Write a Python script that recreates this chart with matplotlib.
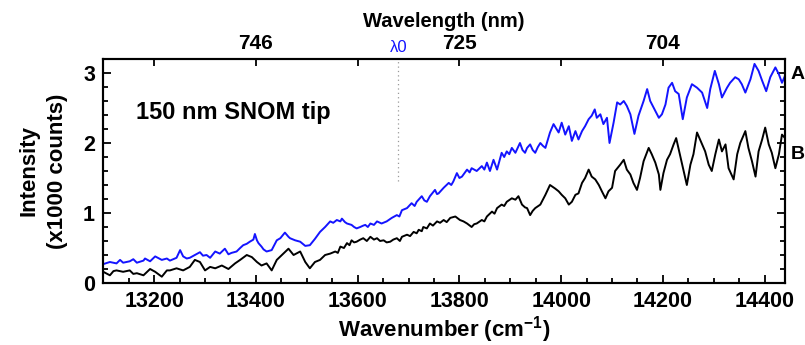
import matplotlib.pyplot as plt
from matplotlib.ticker import MultipleLocator, FixedLocator, FuncFormatter

plt.rcParams['font.family'] = ['Liberation Sans', 'DejaVu Sans']
plt.rcParams['font.weight'] = 'bold'
plt.rcParams['axes.labelweight'] = 'bold'
plt.rcParams['mathtext.fontset'] = 'custom'
plt.rcParams['mathtext.rm'] = 'Liberation Sans:bold'
plt.rcParams['mathtext.default'] = 'rm'

# spectrum A (blue), wavenumber in cm-1, intensity in 1000 counts
wn_a = [13100, 13113, 13126, 13133, 13139, 13152, 13159, 13166, 13179, 13182,
        13192, 13202, 13215, 13225, 13231, 13244, 13251, 13257, 13264, 13270,
        13280, 13290, 13296, 13303, 13310, 13320, 13329, 13339, 13346, 13352,
        13362, 13369, 13375, 13382, 13388, 13395, 13398, 13402, 13405, 13411,
        13415, 13421, 13431, 13441, 13448, 13457, 13464, 13467, 13477, 13487,
        13497, 13506, 13516, 13526, 13536, 13546, 13552, 13559, 13566, 13569,
        13575, 13579, 13588, 13593, 13598, 13605, 13611, 13615, 13620, 13625,
        13632, 13638, 13647, 13657, 13667, 13677, 13682, 13687, 13697, 13706,
        13712, 13716, 13726, 13731, 13736, 13742, 13752, 13756, 13759, 13769,
        13779, 13784, 13788, 13795, 13800, 13805, 13815, 13820, 13824, 13834,
        13844, 13849, 13854, 13860, 13867, 13874, 13883, 13888, 13893, 13898,
        13903, 13910, 13919, 13924, 13929, 13933, 13939, 13944, 13949, 13954,
        13959, 13964, 13969, 13978, 13985, 13995, 14001, 14008, 14015, 14021,
        14028, 14034, 14041, 14047, 14054, 14060, 14066, 14070, 14077, 14083,
        14090, 14095, 14103, 14110, 14116, 14123, 14129, 14136, 14144, 14152,
        14162, 14169, 14175, 14185, 14192, 14198, 14205, 14211, 14218, 14224,
        14231, 14239, 14247, 14257, 14267, 14277, 14287, 14293, 14302, 14310,
        14316, 14326, 14332, 14342, 14349, 14355, 14362, 14372, 14380, 14388,
        14395, 14403, 14411, 14421, 14428, 14434, 14440]
int_a = [0.27, 0.30, 0.28, 0.33, 0.29, 0.31, 0.34, 0.29, 0.32, 0.35,
         0.31, 0.38, 0.33, 0.35, 0.32, 0.36, 0.47, 0.38, 0.35, 0.36,
         0.40, 0.44, 0.39, 0.40, 0.36, 0.45, 0.42, 0.49, 0.41, 0.43,
         0.45, 0.50, 0.54, 0.56, 0.59, 0.62, 0.70, 0.61, 0.57, 0.52,
         0.48, 0.45, 0.47, 0.61, 0.64, 0.72, 0.66, 0.64, 0.61, 0.59,
         0.53, 0.54, 0.63, 0.73, 0.80, 0.88, 0.86, 0.90, 0.88, 0.92,
         0.87, 0.85, 0.83, 0.80, 0.78, 0.80, 0.82, 0.83, 0.80, 0.85,
         0.83, 0.88, 0.85, 0.88, 0.93, 0.97, 0.95, 1.04, 1.07, 1.14,
         1.10, 1.16, 1.24, 1.18, 1.16, 1.24, 1.33, 1.27, 1.28, 1.36,
         1.43, 1.40, 1.45, 1.57, 1.50, 1.52, 1.62, 1.58, 1.64, 1.60,
         1.67, 1.62, 1.72, 1.60, 1.76, 1.62, 1.86, 1.80, 1.88, 1.84,
         1.93, 1.86, 2.00, 1.90, 1.86, 1.93, 1.98, 1.90, 1.86, 1.94,
         2.00, 1.96, 1.93, 2.15, 2.27, 2.15, 2.29, 2.12, 2.24, 2.03,
         2.17, 2.05, 2.17, 2.24, 2.34, 2.39, 2.48, 2.36, 2.41, 2.27,
         2.36, 2.00, 2.29, 2.58, 2.55, 2.60, 2.53, 2.41, 2.13, 2.39,
         2.60, 2.77, 2.60, 2.46, 2.36, 2.41, 2.55, 2.79, 2.86, 2.74,
         2.70, 2.34, 2.65, 2.84, 2.79, 2.72, 2.50, 2.77, 3.03, 2.84,
         2.65, 2.79, 2.86, 2.94, 2.91, 2.84, 2.72, 2.91, 3.13, 3.03,
         2.89, 2.74, 2.94, 3.08, 2.98, 2.86, 2.96]

# spectrum B (black)
wn_b = [13100, 13113, 13120, 13126, 13139, 13152, 13159, 13166, 13179, 13192,
        13202, 13215, 13225, 13231, 13244, 13257, 13270, 13280, 13290, 13300,
        13310, 13320, 13333, 13346, 13359, 13369, 13382, 13392, 13402, 13411,
        13421, 13431, 13441, 13454, 13464, 13474, 13487, 13497, 13506, 13516,
        13526, 13536, 13546, 13556, 13561, 13566, 13573, 13579, 13584, 13588,
        13593, 13598, 13605, 13611, 13618, 13625, 13632, 13638, 13644, 13651,
        13657, 13664, 13670, 13677, 13683, 13687, 13697, 13703, 13710, 13716,
        13720, 13726, 13729, 13736, 13742, 13748, 13756, 13762, 13769, 13775,
        13782, 13792, 13801, 13808, 13815, 13824, 13829, 13834, 13844, 13849,
        13854, 13864, 13869, 13874, 13883, 13888, 13893, 13903, 13910, 13916,
        13923, 13929, 13933, 13939, 13944, 13949, 13959, 13969, 13978, 13988,
        13995, 14001, 14008, 14015, 14021, 14028, 14034, 14041, 14047, 14054,
        14060, 14067, 14074, 14080, 14087, 14093, 14100, 14106, 14116, 14123,
        14129, 14136, 14142, 14149, 14155, 14162, 14172, 14178, 14185, 14192,
        14195, 14201, 14208, 14214, 14221, 14226, 14232, 14241, 14247, 14254,
        14260, 14267, 14277, 14283, 14290, 14296, 14303, 14310, 14316, 14323,
        14329, 14339, 14346, 14352, 14362, 14368, 14375, 14382, 14388, 14395,
        14401, 14408, 14414, 14421, 14428, 14434, 14440]
int_b = [0.16, 0.11, 0.17, 0.18, 0.16, 0.18, 0.13, 0.14, 0.11, 0.20,
         0.16, 0.09, 0.18, 0.18, 0.21, 0.18, 0.23, 0.33, 0.30, 0.18,
         0.23, 0.21, 0.25, 0.20, 0.28, 0.33, 0.40, 0.37, 0.30, 0.25,
         0.28, 0.18, 0.33, 0.42, 0.49, 0.40, 0.45, 0.30, 0.21, 0.30,
         0.33, 0.40, 0.42, 0.45, 0.43, 0.52, 0.50, 0.57, 0.54, 0.61,
         0.58, 0.59, 0.62, 0.64, 0.60, 0.66, 0.62, 0.64, 0.60, 0.61,
         0.58, 0.59, 0.62, 0.64, 0.60, 0.66, 0.69, 0.67, 0.73, 0.71,
         0.76, 0.74, 0.80, 0.78, 0.85, 0.82, 0.88, 0.86, 0.90, 0.87,
         0.93, 0.95, 0.90, 0.88, 0.85, 0.80, 0.84, 0.85, 0.90, 0.88,
         0.95, 1.02, 0.99, 1.07, 1.12, 1.10, 1.16, 1.21, 1.19, 1.24,
         1.12, 1.08, 1.07, 0.97, 1.03, 1.07, 1.12, 1.26, 1.40, 1.35,
         1.31, 1.26, 1.21, 1.12, 1.16, 1.26, 1.28, 1.43, 1.50, 1.62,
         1.52, 1.48, 1.40, 1.31, 1.21, 1.31, 1.36, 1.60, 1.69, 1.76,
         1.62, 1.55, 1.43, 1.33, 1.50, 1.74, 1.93, 1.84, 1.72, 1.55,
         1.33, 1.57, 1.76, 1.84, 1.98, 2.07, 1.88, 1.60, 1.40, 1.69,
         1.84, 2.15, 1.98, 1.88, 1.69, 1.60, 1.84, 2.05, 1.88, 1.98,
         1.64, 1.48, 1.84, 2.00, 2.17, 1.93, 1.74, 1.52, 1.88, 2.05,
         2.22, 1.98, 1.86, 1.64, 1.84, 2.12, 2.07]

bottom_ticks = [13200, 13400, 13600, 13800, 14000, 14200, 14400]
top_ticks = [13200, 13400, 13600, 13800, 14000, 14200, 14400]
top_labelled = [13400, 13800, 14200]
lambda0 = 13680
lambda0_top = 1.45

fig = plt.figure(figsize=(8.05, 3.45), dpi=100)
ax = fig.add_axes([0.1283, 0.1797, 0.8469, 0.6493])

ax.plot(wn_a, int_a, color='#1414ff', lw=1.4)
ax.plot(wn_b, int_b, color='black', lw=1.4)
ax.plot([lambda0, lambda0], [lambda0_top, 3.2], color='#999999', lw=0.9, ls=(0, (1, 2.5)))

ax.set_xlim(13100, 14440)
ax.set_ylim(0, 3.2)
ax.xaxis.set_major_locator(FixedLocator(bottom_ticks))
ax.xaxis.set_minor_locator(MultipleLocator(50))
ax.yaxis.set_major_locator(MultipleLocator(1))
ax.yaxis.set_minor_locator(MultipleLocator(0.2))
ax.tick_params(which='both', direction='in', width=1.3, labelsize=15.5,
               right=True, pad=6)
ax.tick_params(which='major', length=6)
ax.tick_params(which='minor', length=3.5)
for s in ax.spines.values():
    s.set_linewidth(1.5)

ax.set_xlabel('Wavenumber (cm$^{-1}$)', fontsize=16, labelpad=1)
ax.set_ylabel('Intensity\n(x1000 counts)', fontsize=16, labelpad=11,
              linespacing=1.45)

# wavelength scale on top
top = ax.twiny()
top.set_xlim(ax.get_xlim())
top.xaxis.set_major_locator(FixedLocator(top_ticks))
top.xaxis.set_major_formatter(FuncFormatter(
    lambda v, p: '%d' % round(1e7 / v) if v in top_labelled else ''))
top.tick_params(direction='in', length=5, width=1.3, labelsize=15, pad=4)
top.set_xlabel('Wavelength (nm)', fontsize=14.5, labelpad=5)
for s in top.spines.values():
    s.set_linewidth(1.5)

top.text(lambda0, 3.25, '\u03bb0', color='#1414ff', fontsize=12,
         fontweight='normal', ha='center', va='bottom',
         transform=ax.transData)

ax.text(13165, 2.43, '150 nm SNOM tip', fontsize=17, va='center')
ax.text(1.008, 2.98, 'A', fontsize=14, va='center',
        transform=ax.get_yaxis_transform())
ax.text(1.008, 1.83, 'B', fontsize=14, va='center',
        transform=ax.get_yaxis_transform())

fig.savefig('out.png', dpi=100)
